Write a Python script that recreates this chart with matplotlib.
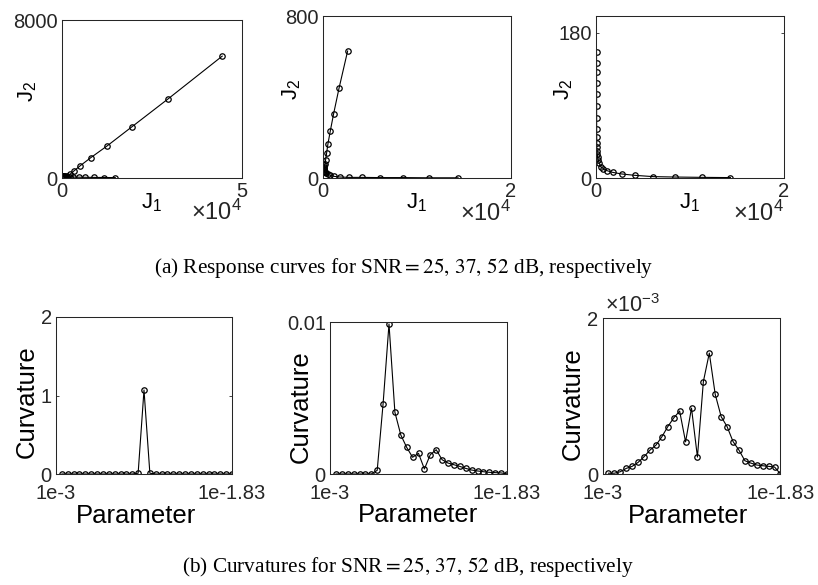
"""Response curves (J1 vs J2) and curvatures for three SNR levels."""
import numpy as np
import matplotlib
matplotlib.use("Agg")
import matplotlib.pyplot as plt

plt.rcParams.update({
    "font.family": "Liberation Sans",
    "mathtext.fontset": "custom",
    "mathtext.rm": "Liberation Sans",
    "mathtext.it": "Liberation Sans:italic",
    "axes.edgecolor": "#262626",
    "axes.linewidth": 0.75,
    "xtick.color": "#262626",
    "ytick.color": "#262626",
    "text.color": "#262626",
})

# ── Response curves (J1, J2) for SNR = 25, 37, 52 dB ─────────────────────────
j1_snr25 = [14800, 11700, 9000, 6500, 4600, 3150, 2100, 1350, 850, 520, 320, 200, 120, 80,
            60, 90, 130, 200, 320, 520, 850, 1350, 2200, 3300, 5100, 8000, 12500, 19400,
            29500, 44500]
j2_snr25 = [20, 25, 30, 35, 40, 45, 50, 55, 60, 65, 70, 75, 80, 85,
            90, 92, 94, 96, 98, 100, 104, 110, 186, 355, 626, 1030, 1620, 2590,
            4010, 6170]

j1_snr37 = [14370, 11290, 8460, 6020, 4180, 2760, 1770, 1200, 780, 530, 360, 250, 170, 120,
            90, 80, 85, 110, 150, 212, 283, 389, 531, 779, 1133, 1699, 2619]
j2_snr37 = [1, 1, 2, 2, 3, 3, 5, 8, 13, 18, 24, 28, 32, 36,
            40, 45, 50, 56, 62, 68, 91, 125, 170, 233, 318, 442, 627]

j1_snr52 = [14300, 11260, 8390, 6090, 4140, 2730, 1770, 1200, 780, 530, 354, 248, 170, 130,
            105, 90, 80, 75, 70, 68, 66, 64, 62, 60, 58, 56]
j2_snr52 = [0.5, 0.8, 1.2, 1.7, 3.3, 5, 7, 9, 11.6, 13.7, 18, 22, 26, 30,
            34, 38, 43, 51, 61, 75, 89, 104, 118, 131, 143, 156]

# ── Curvature over the regularisation parameter grid ─────────────────────────
param_index = np.arange(1, 31)
curv_snr25 = [0, 0, 0, 0, 0, 0, 0, 0, 0, 0, 0, 0, 0, 0.01, 1.07,
              0.01, 0, 0, 0, 0, 0, 0, 0, 0, 0, 0, 0, 0, 0, 0]
curv_snr37 = [0, 0, 0, 0, 0, 0, 0, 0.00024, 0.00463, 0.00987,
              0.00406, 0.00257, 0.00175, 0.0011, 0.00136, 0.00033, 0.00127, 0.0016,
              0.00094, 0.00072, 0.00061, 0.0005, 0.00037, 0.00026, 0.0002, 0.00015,
              0.00011, 0.00009, 0.00007, 0.00001]
curv_snr52 = [0.00001, 0.00001, 0.000029, 0.000072, 0.000098, 0.000149, 0.000221,
              0.000306, 0.000369, 0.000476, 0.000607, 0.000718, 0.000807, 0.000412,
              0.000845, 0.000217, 0.001185, 0.00155, 0.00102, 0.000735, 0.000607,
              0.000416, 0.000306, 0.00017, 0.00014, 0.000115, 0.000106, 0.000098,
              0.000089, 0.0]

param_ticklabels = ["1e-3", "1e-1.83"]

TICK_FS = 14.5
J_FS = 16
LABEL_FS = 18.5
LINE = dict(color="black", linewidth=0.8, marker="o", markersize=3.9,
            markerfacecolor="none", markeredgecolor="black", markeredgewidth=0.9)


def _style(ax, xpad=3):
    ax.tick_params(direction="in", length=2.5, width=0.6, labelsize=TICK_FS,
                   top=True, right=True, pad=3)
    ax.tick_params(axis="x", pad=xpad)
    for sp in ax.spines.values():
        sp.set_color("#262626")


fig = plt.figure(figsize=(8.18, 5.85), dpi=100)

# top row: response curves
top_rects = [
    [62 / 818, 1 - 178 / 585, 180 / 818, 158 / 585],
    [323 / 818, 1 - 178 / 585, 188 / 818, 162 / 585],
    [596 / 818, 1 - 178 / 585, 188 / 818, 162 / 585],
]
top_data = [(j1_snr25, j2_snr25, 5e4, 8000, 8000, "5", -0.13),
            (j1_snr37, j2_snr37, 2e4, 800, 800, "2", -0.105),
            (j1_snr52, j2_snr52, 2e4, 201, 180, "2", -0.11)]

for rect, (j1, j2, xmax, ymax, ytop, xlab, ylx) in zip(top_rects, top_data):
    ax = fig.add_axes(rect)
    ax.plot(j1, j2, **LINE)
    ax.set_xlim(0, xmax)
    ax.set_ylim(0, ymax)
    ax.set_xticks([0, xmax])
    ax.set_xticklabels(["0", xlab])
    ax.set_yticks([0, ytop])
    ax.set_yticklabels(["0", f"{ytop:g}"])
    _style(ax)
    ax.set_xlabel(r"$\mathregular{J_1}$", fontsize=J_FS)
    ax.xaxis.set_label_coords(0.5, -0.085)
    ax.set_ylabel(r"$\mathregular{J_2}$", fontsize=J_FS)
    ax.yaxis.set_label_coords(ylx, 0.55)
    ax.text(1.0, -0.14, r"$\times\mathregular{10^4}$", transform=ax.transAxes,
            ha="right", va="top", fontsize=17)

# bottom row: curvatures
bot_rects = [
    [56 / 818, 1 - 474 / 585, 176 / 818, 157 / 585],
    [330 / 818, 1 - 474 / 585, 177 / 818, 152 / 585],
    [602.5 / 818, 1 - 474 / 585, 178 / 818, 156 / 585],
]
bot_data = [(curv_snr25, 2, [0, 1, 2], ["0", "1", "2"], 0.455, 0.46),
            (curv_snr37, 0.01, [0, 0.01], ["0", "0.01"], 0.5, 0.44),
            (curv_snr52, 2e-3, [0, 2e-3], ["0", "2"], 0.48, 0.45)]

for i, (rect, (curv, ymax, yt, ytl, px, cy)) in enumerate(zip(bot_rects, bot_data)):
    ax = fig.add_axes(rect)
    ax.plot(param_index, curv, **LINE)
    ax.set_xlim(0, len(param_index))
    ax.set_ylim(0, ymax)
    ax.set_xticks([0, len(param_index)])
    ax.set_xticklabels(param_ticklabels)
    ax.set_yticks(yt)
    ax.set_yticklabels(ytl)
    _style(ax, xpad=7)
    ax.set_xlabel("Parameter", fontsize=LABEL_FS)
    ax.xaxis.set_label_coords(px, -0.19)
    ax.set_ylabel("Curvature", fontsize=LABEL_FS)
    ax.yaxis.set_label_coords(-0.098, cy)
    if i == 2:
        ax.text(0.015, 0.04, r"$\times\mathregular{10^{-3}}$",
                transform=ax.transAxes + matplotlib.transforms.Affine2D().translate(0, 156),
                ha="left", va="baseline", fontsize=15.5)

cap_kw = dict(ha="center", va="center", fontsize=15.3, family="Liberation Serif",
              math_fontfamily="stix", color="black")
fig.text(404 / 818, 1 - 268 / 585,
         r"(a) Response curves for SNR$=25,\,37,\,52$ dB, respectively", **cap_kw)
fig.text(408 / 818, 1 - 567 / 585,
         r"(b) Curvatures for SNR$=25,\,37,\,52$ dB, respectively", **cap_kw)

fig.savefig("out.png", dpi=100)
